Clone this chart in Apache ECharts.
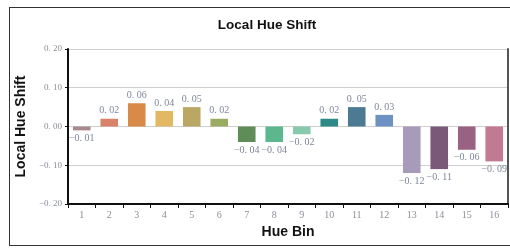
<!DOCTYPE html>
<html>
<head>
<meta charset="utf-8">
<script src="https://cdn.jsdelivr.net/npm/echarts@6/dist/echarts.min.js"></script>
<style>
  html, body { margin: 0; padding: 0; background: #fff; }
  #frame { position: absolute; left: 9px; top: 7px; width: 510px; height: 239px; border: 1px solid #333; box-sizing: border-box; }
  #chart { position: absolute; left: 0; top: 0; width: 510px; height: 250px; }
</style>
</head>
<body>
<div id="frame"></div>
<div id="chart"></div>
<script>
// hue bins and their local shift values
var hueBins = ['1', '2', '3', '4', '5', '6', '7', '8', '9', '10', '11', '12', '13', '14', '15', '16'];
var hueShift = [-0.01, 0.02, 0.06, 0.04, 0.05, 0.02, -0.04, -0.04, -0.02, 0.02, 0.05, 0.03, -0.12, -0.11, -0.06, -0.09];
var binColors = ['#a88a8c', '#d9826a', '#d98a48', '#e2b865', '#b9a763', '#9aab62', '#5f8d58', '#5cb78f',
                 '#86c9ab', '#2c8a88', '#4b7a92', '#6c92c4', '#a89ab9', '#7a5878', '#9a6282', '#c27a92'];

var labelFont = '"Liberation Serif", "DejaVu Serif", serif';
var boldFont = 'Liberation Sans, Arial, sans-serif';

// "0.05" -> "0. 05", minus sign like the original
var fmt = function (v) { return v.toFixed(2).replace('.', '. ').replace('-', '\u2212'); };

var chart = echarts.init(document.getElementById('chart'));
chart.setOption({
    animation: false,
    title: {
        text: 'Local Hue Shift',
        left: 262, top: 13, textAlign: 'center',
        textStyle: { fontFamily: boldFont, fontSize: 13.5, fontWeight: 'bold', color: '#111' }
    },
    grid: { left: 68, right: 2, top: 49, bottom: 46 },
    xAxis: {
        type: 'category',
        data: hueBins,
        name: 'Hue Bin',
        nameLocation: 'middle',
        nameGap: 16,
        nameTextStyle: { fontFamily: boldFont, fontSize: 14, fontWeight: 'bold', color: '#111' },
        axisLine: { onZero: false, lineStyle: { color: '#111', width: 2 } },
        axisTick: { show: true, length: 4, lineStyle: { color: '#111' } },
        axisLabel: { fontFamily: labelFont, fontSize: 10, color: '#8a8f99', margin: 6 }
    },
    yAxis: [{
        type: 'value',
        min: -0.2, max: 0.2, interval: 0.1,
        name: 'Local Hue Shift',
        nameLocation: 'middle',
        nameGap: 36,
        nameRotate: 90,
        nameTextStyle: { fontFamily: boldFont, fontSize: 14, fontWeight: 'bold', color: '#111' },
        axisLine: { show: true, lineStyle: { color: '#111', width: 2 } },
        axisTick: { show: true, length: 3, lineStyle: { color: '#111' } },
        axisLabel: { fontFamily: labelFont, fontSize: 9, color: '#8a8f99', margin: 6, formatter: fmt },
        splitLine: { show: true, lineStyle: { color: '#cfcfcf', width: 1 } }
    }, {
        type: 'value',
        min: -0.2, max: 0.2, interval: 0.1,
        position: 'right',
        axisLine: { show: true, lineStyle: { color: '#555', width: 2 } },
        axisTick: { show: false },
        axisLabel: { show: false },
        splitLine: { show: false }
    }],
    series: [{
        type: 'bar',
        barWidth: '64%',
        data: hueShift.map(function (v, i) {
            return {
                value: v,
                itemStyle: { color: binColors[i] },
                label: { position: v >= 0 ? 'top' : 'bottom' }
            };
        }),
        label: {
            show: true,
            fontFamily: labelFont, fontSize: 10, color: '#7f8699', distance: 3,
            formatter: function (p) { return fmt(p.value); }
        }
    }]
});
</script>
</body>
</html>
